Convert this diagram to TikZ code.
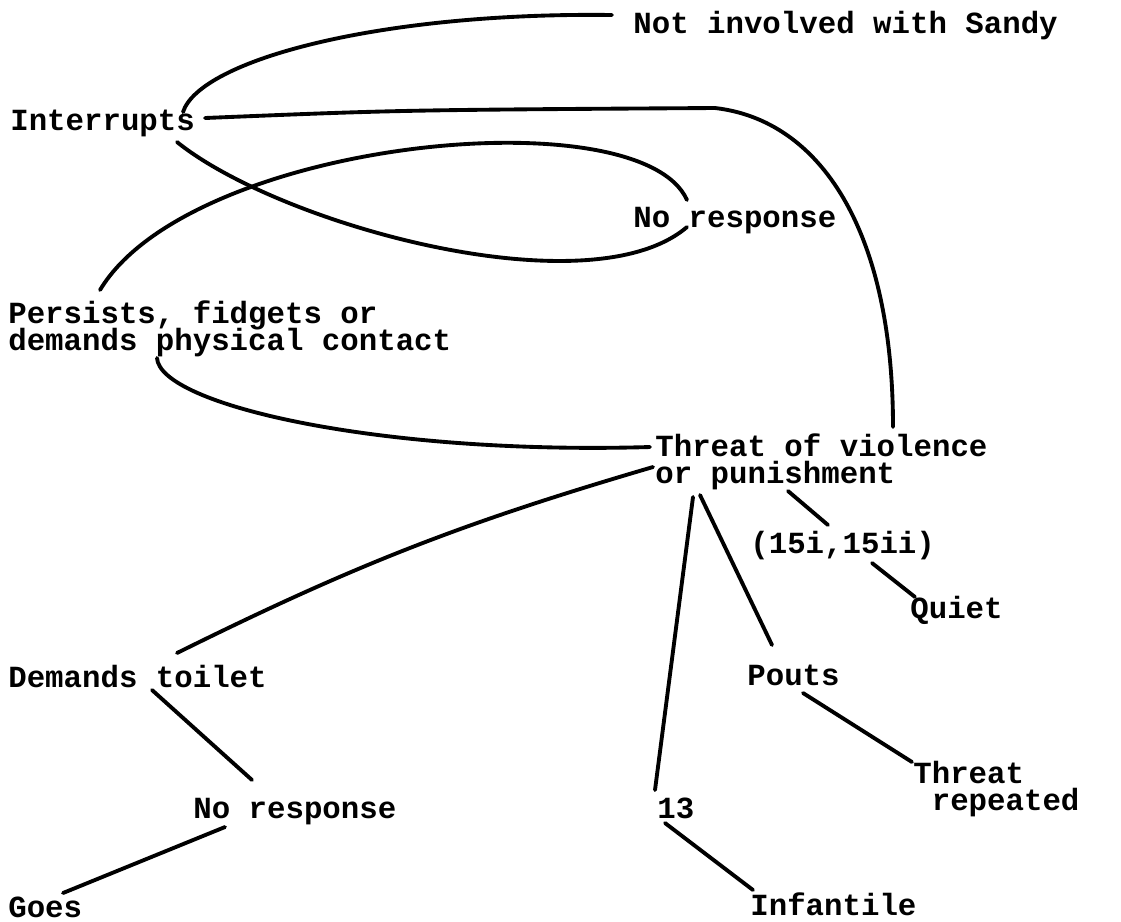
\documentclass[tikz,border=0pt]{standalone}
\usepackage{fontspec}
\setmonofont{Liberation Mono}
\usetikzlibrary{calc}
\begin{document}
\begin{tikzpicture}[x = 0.02cm, y = -0.02cm,
    lbl/.style = {anchor = base west, inner sep = 0pt, align = left,
        font = {\fontsize{17.5}{15.3}\selectfont\ttfamily\bfseries\lineskiplimit -20pt\relax}},
    link/.style = {line width = 2.2pt, line cap = round}]
    \useasboundingbox (0,0) rectangle (1121,921);

    % labels (two-line ones sit on their last baseline)
    \node[lbl] (Nis) at (633,33) {Not involved with Sandy};
    \node[lbl] (Intr) at (10,130) {Interrupts};
    \node[lbl] (NoRespA) at (633,227) {No response};
    \node[lbl] (Pers) at (8,350) {Persists, fidgets or\\demands physical contact};
    \node[lbl] (Thr) at (655,483) {Threat of violence\\or punishment};
    \node[lbl] (Cite) at (750,553) {(15i,15ii)};
    \node[lbl] (Quiet) at (910,618) {Quiet};
    \node[lbl] (Pouts) at (747,685) {Pouts};
    \node[lbl] (Toil) at (8,687) {Demands toilet};
    \node[lbl] (Rep) at (913,810) {Threat\\\hphantom{T}repeated};
    \node[lbl] (NoRespB) at (193,818) {No response};
    \node[lbl] (Thirteen) at (657,818) {13};
    \node[lbl] (Goes) at (8,917) {Goes};
    \node[lbl] (Inf) at (750,915) {Infantile};

    % curved links
    \draw[link] ($(Intr.base west)+(173,-18)$) .. controls +(17,-52) and +(-232,-3) .. ($(Nis.base west)+(-21,-18)$);
    \draw[link] ($(Intr.base west)+(195,-12)$) .. controls (400,110) .. (715,108)
        .. controls (820,120) and (893,230) .. ($(Thr.base west)+(238,-56)$);
    \draw[link] ($(Intr.base west)+(167,12)$) .. controls +(103,83) and +(-97,83) .. ($(NoRespA.base west)+(54,0)$);
    \draw[link] ($(Pers.base west)+(92,-60)$) .. controls +(90,-150) and +(-47,-105) .. ($(NoRespA.base west)+(54,-27)$);
    \draw[link] ($(Pers.base west)+(149,8)$) .. controls +(3,47) and +(-270,8) .. ($(Thr.base west)+(-5,-36)$);

    % straight links
    \draw[link] ($(Toil.base west)+(169,-34)$) to[bend left = 5] ($(Thr.base west)+(-2,-16)$);
    \draw[link] ($(Toil.base west)+(144,3)$) -- ($(NoRespB.base west)+(59,-38)$);
    \draw[link] ($(NoRespB.base west)+(32,9)$) -- ($(Goes.base west)+(55,-24)$);
    \draw[link] ($(Thr.base west)+(38,14)$) -- ($(Thirteen.base west)+(-2,-28)$);
    \draw[link] ($(Thr.base west)+(45,12)$) -- ($(Pouts.base west)+(25,-40)$);
    \draw[link] ($(Thr.base west)+(133,8)$) -- ($(Cite.base west)+(78,-28)$);
    \draw[link] ($(Cite.base west)+(122,10)$) -- ($(Quiet.base west)+(5,-21)$);
    \draw[link] ($(Pouts.base west)+(56,8)$) -- ($(Rep.base west)+(-1,-48)$);
    \draw[link] ($(Thirteen.base west)+(8,5)$) -- ($(Inf.base west)+(3,-25)$);
\end{tikzpicture}
\end{document}
